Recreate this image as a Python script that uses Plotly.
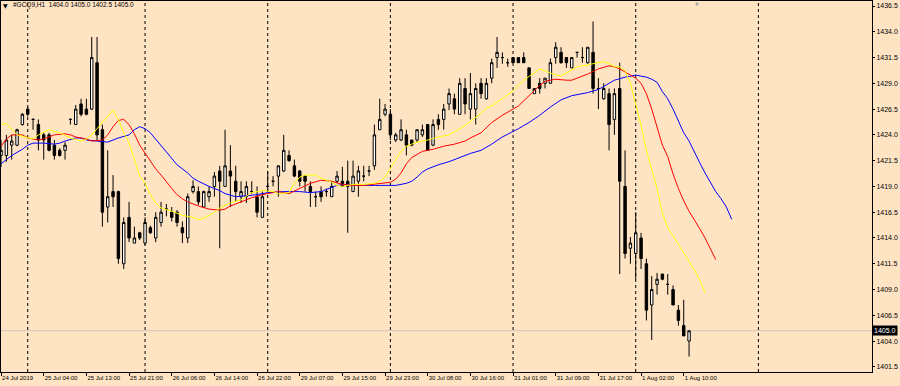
import plotly.graph_objects as go

symbol = "#GCQ9"
timeframe = "H1"

opens = [1422.0, 1422.0, 1423.0, 1423.0, 1425.0, 1426.5, 1425.5, 1425.0, 1424.0, 1424.0,
         1423.0, 1422.5, 1422.5, 1425.5, 1425.0, 1427.0, 1426.5, 1426.5, 1431.0, 1424.5,
         1417.0, 1418.5, 1418.5, 1411.5, 1416.0, 1413.5, 1414.5, 1413.5, 1415.0, 1414.0,
         1415.5, 1416.8, 1416.5, 1416.5, 1415.0, 1414.0, 1418.5, 1418.5, 1417.0, 1418.0,
         1419.0, 1420.5, 1419.0, 1420.5, 1419.5, 1418.0, 1418.0, 1418.5, 1418.0, 1416.0,
         1419.0, 1419.5, 1420.0, 1420.5, 1422.0, 1421.0, 1420.5, 1420.0, 1419.0, 1418.0,
         1418.5, 1418.5, 1418.0, 1419.5, 1419.5, 1419.5, 1418.5, 1419.5, 1420.0, 1420.5,
         1421.0, 1424.5, 1426.0, 1426.0, 1423.5, 1423.5, 1424.0, 1423.5, 1423.5, 1424.0,
         1425.0, 1423.0, 1425.5, 1425.5, 1427.0, 1427.5, 1426.0, 1428.5, 1426.5, 1426.5,
         1429.0, 1427.5, 1429.5, 1431.5, 1431.5, 1431.0, 1431.5, 1431.5, 1431.5, 1430.5,
         1428.0, 1429.0, 1429.0, 1429.0, 1431.5, 1432.0, 1431.5, 1430.5, 1432.0, 1431.5,
         1431.0, 1432.0, 1428.5, 1427.5, 1428.0, 1425.5, 1428.5, 1419.0, 1413.0, 1412.5,
         1414.0, 1411.5, 1407.5, 1409.5, 1410.5, 1409.5, 1409.0, 1407.0, 1405.5, 1404.0]
highs = [1423.5, 1424.0, 1424.0, 1424.6, 1426.1, 1426.7, 1425.6, 1425.5, 1424.2, 1424.2,
         1423.5, 1422.7, 1423.3, 1425.6, 1426.9, 1427.5, 1427.5, 1433.5, 1433.5, 1425.0,
         1422.5, 1420.1, 1418.6, 1416.0, 1417.5, 1415.1, 1414.6, 1416.0, 1415.2, 1416.5,
         1417.5, 1417.3, 1417.0, 1416.7, 1415.6, 1418.3, 1419.6, 1419.0, 1418.6, 1419.0,
         1420.4, 1421.0, 1424.5, 1423.0, 1421.0, 1419.5, 1419.5, 1419.5, 1419.0, 1418.5,
         1420.5, 1420.0, 1421.0, 1424.0, 1422.5, 1421.6, 1420.6, 1420.1, 1419.5, 1418.5,
         1419.0, 1418.8, 1419.5, 1420.5, 1420.9, 1421.5, 1421.5, 1421.0, 1421.0, 1421.0,
         1425.0, 1427.5, 1427.0, 1426.5, 1424.2, 1425.5, 1424.5, 1423.5, 1424.5, 1425.0,
         1425.0, 1425.5, 1426.0, 1427.0, 1428.5, 1428.0, 1429.5, 1429.5, 1430.0, 1429.0,
         1429.5, 1429.5, 1431.4, 1433.5, 1432.0, 1431.4, 1431.5, 1431.5, 1432.0, 1430.5,
         1428.5, 1429.5, 1429.5, 1431.4, 1433.0, 1432.5, 1431.5, 1431.5, 1432.0, 1432.5,
         1432.5, 1435.0, 1429.5, 1429.0, 1428.5, 1428.5, 1431.0, 1422.5, 1414.1, 1416.5,
         1414.5, 1412.0, 1410.3, 1410.6, 1410.5, 1410.5, 1409.4, 1407.5, 1408.0, 1405.0]
lows = [1420.9, 1421.4, 1421.6, 1422.9, 1424.9, 1425.8, 1424.5, 1422.5, 1421.6, 1422.4,
        1421.6, 1421.9, 1421.6, 1425.0, 1425.0, 1425.8, 1425.9, 1426.4, 1423.5, 1415.1,
        1415.5, 1417.0, 1411.5, 1411.0, 1413.6, 1413.5, 1413.8, 1413.3, 1414.4, 1413.6,
        1415.1, 1416.1, 1415.6, 1415.1, 1413.5, 1413.5, 1418.3, 1417.2, 1416.9, 1417.5,
        1418.0, 1413.0, 1419.0, 1417.0, 1417.5, 1417.4, 1417.4, 1418.3, 1416.0, 1416.0,
        1418.5, 1419.0, 1418.0, 1420.4, 1421.4, 1419.9, 1419.0, 1418.5, 1417.0, 1417.0,
        1417.5, 1418.0, 1418.0, 1419.3, 1419.0, 1414.5, 1418.5, 1418.0, 1419.5, 1420.0,
        1420.6, 1424.5, 1425.8, 1423.5, 1423.3, 1423.4, 1422.0, 1422.9, 1423.3, 1423.8,
        1422.5, 1422.9, 1424.5, 1424.5, 1426.4, 1426.0, 1426.0, 1426.0, 1425.5, 1425.0,
        1427.5, 1427.4, 1429.0, 1430.5, 1430.9, 1430.6, 1431.0, 1431.0, 1431.0, 1428.5,
        1428.0, 1428.0, 1428.5, 1429.0, 1430.9, 1430.9, 1430.5, 1430.5, 1431.5, 1431.0,
        1430.9, 1428.0, 1426.5, 1427.4, 1422.5, 1424.0, 1410.5, 1412.0, 1411.5, 1410.0,
        1411.0, 1406.0, 1404.1, 1408.5, 1409.9, 1408.5, 1407.5, 1405.5, 1404.5, 1402.5]
closes = [1422.5, 1423.5, 1423.4, 1424.5, 1426.0, 1426.0, 1425.5, 1423.5, 1423.5, 1422.5,
          1422.0, 1422.0, 1423.0, 1425.5, 1426.5, 1426.0, 1426.0, 1431.5, 1424.0, 1416.5,
          1418.0, 1418.0, 1412.0, 1415.5, 1414.0, 1414.0, 1414.0, 1415.5, 1414.5, 1416.0,
          1416.5, 1416.8, 1416.0, 1415.5, 1414.5, 1418.0, 1419.0, 1417.5, 1418.5, 1418.5,
          1420.0, 1419.5, 1421.0, 1420.0, 1418.5, 1418.5, 1419.0, 1418.5, 1416.5, 1418.0,
          1419.0, 1419.5, 1421.0, 1422.5, 1421.5, 1420.0, 1419.5, 1419.5, 1418.5, 1418.0,
          1418.0, 1418.5, 1419.0, 1420.0, 1419.0, 1419.0, 1420.0, 1420.5, 1420.0, 1420.5,
          1424.0, 1425.5, 1426.5, 1424.0, 1424.0, 1424.5, 1423.0, 1423.0, 1424.5, 1424.5,
          1422.5, 1425.0, 1425.0, 1426.5, 1428.0, 1426.5, 1429.0, 1427.0, 1428.0, 1428.5,
          1428.0, 1429.0, 1431.0, 1432.0, 1431.5, 1431.0, 1431.0, 1431.0, 1431.0, 1428.5,
          1428.5, 1428.5, 1429.5, 1431.0, 1432.5, 1431.0, 1431.0, 1431.5, 1432.0, 1431.5,
          1432.5, 1428.5, 1428.5, 1428.5, 1425.0, 1428.0, 1419.5, 1412.5, 1413.5, 1414.5,
          1412.0, 1407.0, 1409.0, 1410.0, 1410.0, 1409.5, 1407.5, 1406.0, 1404.5, 1405.0]

# Alligator lines (bar index, value)
lips_x = [0, 1, 3, 5, 6, 7, 9, 11, 13, 15, 16, 17, 18, 19, 20, 21, 22, 23, 24, 25, 26, 27, 28, 29, 30,
          32, 34, 36, 37, 38, 40, 41, 43, 45, 47, 49, 51, 52, 54, 55, 56, 57, 59, 60, 62, 63, 64, 66,
          68, 70, 71, 72, 73, 74, 75, 76, 78, 80, 82, 84, 85, 87, 88, 90, 91, 92, 94, 96, 98, 100,
          101, 102, 104, 105, 107, 108, 110, 112, 113, 114, 115, 116, 117, 118, 119, 120, 121, 122,
          123, 124, 125, 126, 127, 128, 129, 130, 131, 132]
lips_y = [1425.0, 1425.1, 1424.0, 1423.7, 1423.6, 1424.0, 1424.5, 1424.2, 1423.7, 1423.4, 1423.6,
          1424.0, 1424.6, 1425.3, 1425.9, 1426.4, 1425.5, 1424.2, 1423.2, 1421.6, 1420.0, 1419.3,
          1418.2, 1417.4, 1416.9, 1416.6, 1416.2, 1416.0, 1415.8, 1415.9, 1416.5, 1416.9, 1417.4,
          1417.7, 1418.4, 1418.6, 1418.5, 1418.3, 1418.4, 1419.3, 1419.9, 1420.1, 1420.1, 1419.8,
          1419.4, 1419.1, 1419.0, 1419.2, 1419.2, 1419.3, 1419.5, 1419.9, 1420.8, 1421.6, 1422.4,
          1422.9, 1423.3, 1423.5, 1423.8, 1424.0, 1424.3, 1424.9, 1425.3, 1426.1, 1426.6, 1426.8,
          1427.5, 1428.3, 1429.3, 1430.0, 1430.4, 1430.2, 1429.8, 1429.7, 1430.3, 1430.6, 1430.8,
          1431.0, 1431.1, 1430.9, 1430.6, 1430.6, 1430.2, 1429.0, 1427.0, 1424.9, 1422.5, 1420.6,
          1418.8, 1416.4, 1415.0, 1414.2, 1413.4, 1412.6, 1411.7, 1410.9, 1409.9, 1408.7]
teeth_x = [0, 1, 2, 4, 5, 7, 8, 9, 10, 12, 13, 14, 16, 17, 19, 20, 21, 22, 23, 24, 25, 26, 27, 28,
           29, 30, 31, 32, 33, 34, 35, 37, 39, 41, 42, 43, 45, 47, 49, 51, 52, 54, 56, 58, 60, 62,
           64, 66, 68, 70, 72, 73, 74, 75, 76, 77, 78, 79, 81, 83, 85, 87, 88, 90, 92, 94, 96, 97,
           99, 100, 101, 102, 104, 106, 107, 109, 110, 112, 114, 115, 116, 117, 118, 119, 120, 121,
           122, 123, 124, 125, 126, 127, 128, 129, 130, 131, 132, 133, 134]
teeth_y = [1422.9, 1423.6, 1424.0, 1424.0, 1423.7, 1423.5, 1423.6, 1423.8, 1424.0, 1424.1, 1424.0,
           1423.8, 1423.6, 1423.4, 1423.5, 1424.0, 1424.8, 1425.4, 1425.5, 1425.0, 1424.1, 1423.0,
           1422.2, 1421.4, 1420.7, 1420.1, 1419.4, 1418.8, 1418.2, 1417.8, 1417.5, 1417.1, 1416.8,
           1416.7, 1416.8, 1417.1, 1417.5, 1417.9, 1418.2, 1418.4, 1418.5, 1418.3, 1418.8, 1419.3,
           1419.6, 1419.5, 1419.2, 1419.1, 1419.1, 1419.2, 1419.3, 1419.4, 1419.7, 1420.3, 1421.2,
           1421.8, 1422.1, 1422.4, 1422.6, 1422.9, 1423.1, 1423.4, 1423.7, 1424.2, 1425.2, 1425.9,
           1426.5, 1426.8, 1427.8, 1428.3, 1428.8, 1429.2, 1429.4, 1429.3, 1429.3, 1429.7, 1429.9,
           1430.4, 1430.7, 1430.6, 1430.4, 1430.1, 1429.8, 1429.5, 1429.0, 1428.0, 1426.5, 1424.8,
           1423.0, 1421.9, 1420.2, 1418.8, 1417.6, 1416.6, 1415.8, 1414.9, 1414.0, 1412.9, 1411.9]
jaw_x = [0, 1, 2, 4, 5, 6, 8, 10, 11, 12, 14, 15, 16, 18, 20, 21, 22, 24, 25, 26, 27, 28, 29, 30,
         31, 32, 33, 35, 36, 37, 39, 41, 42, 44, 46, 48, 50, 53, 56, 58, 60, 62, 63, 65, 67, 70, 72,
         74, 76, 77, 78, 79, 80, 82, 84, 86, 88, 90, 92, 94, 96, 97, 99, 101, 103, 105, 107, 109,
         110, 112, 114, 115, 117, 119, 120, 121, 122, 123, 124, 125, 126, 127, 128, 129, 130, 131,
         132, 133, 134, 135, 136, 137]
jaw_y = [1421.2, 1421.6, 1422.0, 1422.6, 1423.0, 1423.2, 1423.2, 1423.1, 1423.2, 1423.4, 1423.7,
         1423.7, 1423.5, 1423.4, 1423.3, 1423.5, 1423.7, 1424.0, 1424.5, 1424.8, 1424.6, 1424.2,
         1423.6, 1423.0, 1422.3, 1421.7, 1421.1, 1420.3, 1419.8, 1419.5, 1419.0, 1418.6, 1418.3,
         1418.0, 1418.1, 1418.2, 1418.4, 1418.5, 1418.5, 1418.4, 1418.5, 1418.9, 1419.1, 1419.2,
         1419.1, 1419.1, 1419.1, 1419.1, 1419.3, 1419.5, 1419.9, 1420.4, 1420.7, 1421.1, 1421.4,
         1421.8, 1422.2, 1422.5, 1423.1, 1423.8, 1424.3, 1424.6, 1425.2, 1425.9, 1426.7, 1427.4,
         1427.8, 1428.0, 1428.1, 1428.4, 1429.0, 1429.3, 1429.6, 1429.8, 1429.7, 1429.6, 1429.4,
         1429.1, 1428.2, 1427.5, 1426.5, 1425.3, 1424.2, 1423.4, 1422.3, 1421.3, 1420.3, 1419.4,
         1418.5, 1417.8, 1417.0, 1415.8]

tick_bars = [0, 8, 16, 24, 32, 40, 48, 56, 64, 72, 80, 88, 96, 104, 112, 120, 128]
tick_labels = ["24 Jul 2019", "25 Jul 04:00", "25 Jul 13:00", "25 Jul 21:00", "26 Jul 06:00",
               "26 Jul 14:00", "26 Jul 22:00", "29 Jul 07:00", "29 Jul 15:00", "29 Jul 23:00",
               "30 Jul 08:00", "30 Jul 16:00", "31 Jul 01:00", "31 Jul 09:00", "31 Jul 17:00",
               "1 Aug 02:00", "1 Aug 10:00"]
day_start_bars = [5, 27, 50, 73, 96, 119, 142]
price_ticks = [1401.5, 1404.0, 1406.5, 1409.0, 1411.5, 1414.0, 1416.5, 1419.0, 1421.5,
               1424.0, 1426.5, 1429.0, 1431.5, 1434.0, 1436.5]

BG = "#FFE4C4"
FONT = "Liberation Sans, Arial, sans-serif"
bars = list(range(len(opens)))

fig = go.Figure()
fig.add_trace(go.Candlestick(
    x=bars, open=opens, high=highs, low=lows, close=closes,
    increasing=dict(fillcolor="white", line=dict(color="black", width=1)),
    decreasing=dict(fillcolor="black", line=dict(color="black", width=1)),
    whiskerwidth=0, showlegend=False, hoverinfo="skip"))
for xs, ys, col in [(jaw_x, jaw_y, "#0000FF"), (teeth_x, teeth_y, "#FF0000"), (lips_x, lips_y, "#FFFF00")]:
    fig.add_trace(go.Scatter(x=xs, y=ys, mode="lines", line=dict(color=col, width=1),
                             showlegend=False, hoverinfo="skip"))

shapes = [dict(type="line", xref="paper", x0=0, x1=1, yref="y", y0=closes[-1], y1=closes[-1],
               line=dict(color="#D0C8C0", width=1), layer="below")]
for b in day_start_bars:
    shapes.append(dict(type="line", xref="x", x0=b, x1=b, yref="paper", y0=0, y1=1,
                       line=dict(color="black", width=1, dash="dot"), layer="below"))

title = "{},{}\u00a0\u00a0{:.1f}\u00a0{:.1f}\u00a0{:.1f}\u00a0{:.1f}".format(
    symbol, timeframe, opens[-1], highs[-1], lows[-1], closes[-1])

annotations = [
    dict(text="\u25BC", xref="paper", yref="paper", x=0.0046, y=0.988, xanchor="center",
         yanchor="middle", showarrow=False, font=dict(family="DejaVu Sans", size=6, color="black")),
    dict(text=title, xref="paper", yref="paper", x=0.0115, y=0.988, xanchor="left", yanchor="middle",
         showarrow=False, font=dict(family=FONT, size=6.5, color="black")),
    dict(text="{:.1f}".format(closes[-1]), xref="paper", yref="y", x=1.0, y=closes[-1],
         xanchor="left", yanchor="middle", showarrow=False, bgcolor="black", borderpad=1,
         font=dict(family=FONT, size=7, color="white")),
    dict(text="\u25BC", xref="paper", yref="paper", x=0.799, y=0.992, xanchor="center",
         yanchor="middle", showarrow=False, font=dict(family="DejaVu Sans", size=5, color="#A8A8A8")),
]

fig.update_layout(
    template="none",
    width=900, height=386,
    margin=dict(l=1, r=28, t=1, b=14, pad=0),
    paper_bgcolor=BG, plot_bgcolor=BG,
    boxgap=0.35,
    showlegend=False,
    shapes=shapes, annotations=annotations,
    xaxis=dict(range=[-0.01, 163.30], showgrid=False, zeroline=False, showline=True,
               linecolor="black", linewidth=1, mirror=True, ticks="outside", ticklen=3,
               tickcolor="black", tickvals=tick_bars, ticktext=tick_labels,
               ticklabelposition="outside right",
               tickfont=dict(family=FONT, size=6, color="black"),
               rangeslider=dict(visible=False), fixedrange=True),
    yaxis=dict(side="right", range=[1401.0, 1436.985], showgrid=False, zeroline=False,
               showline=True, linecolor="black", linewidth=1, mirror=True, ticks="outside",
               ticklen=2, tickcolor="black", tickvals=price_ticks,
               ticktext=["{:.1f}".format(p) for p in price_ticks],
               tickfont=dict(family=FONT, size=7, color="black"), fixedrange=True),
)

fig.write_html("out.html", config={"displayModeBar": False},
               post_script="document.body.style.margin='0';document.body.style.background='" + BG + "';")
